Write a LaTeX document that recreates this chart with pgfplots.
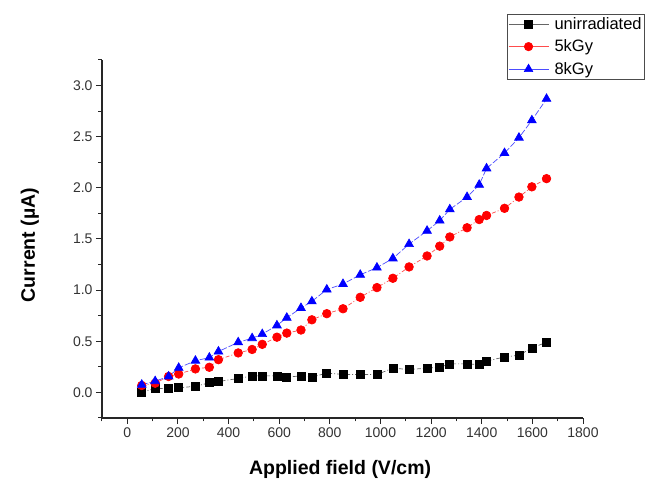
\documentclass[border=0pt]{standalone}
\usepackage{fontspec}
\setmainfont{Liberation Sans}
\usepackage{pgfplots}
\pgfplotsset{compat=1.18}
\begin{document}
\begin{tikzpicture}[x=1pt,y=1pt]
\useasboundingbox (0,0) rectangle (649,486);
\begin{axis}[
  at={(102pt,68pt)}, anchor=south west,
  scale only axis, width=481pt, height=358pt,
  xmin=-100, xmax=1800, ymin=-0.25, ymax=3.25,
  axis lines*=left,
  axis line style={line width=1.2pt, black!85},
  xtick={0,200,...,1800},
  minor xtick={-100,100,...,1700},
  ytick={0,0.5,...,3.0},
  minor ytick={-0.25,0.25,...,3.25},
  tick align=outside,
  major tick length=6pt, minor tick length=3.5pt,
  tick style={line width=1pt, black!85},
  tick label style={font=\fontsize{14}{16}\selectfont, text=black!80},
  /pgf/number format/assume math mode=true,
  xticklabel style={/pgf/number format/.cd, fixed, 1000 sep={}},
  yticklabel style={/pgf/number format/.cd, fixed, fixed zerofill, precision=1},
  xlabel={\bfseries Applied field (V/cm)},
  ylabel={\bfseries Current (µA)},
  label style={font=\fontsize{19.5}{22}\selectfont},
  xlabel style={at={(axis description cs:0.495,-0.145)}, anchor=center},
  ylabel style={at={(axis description cs:-0.15,0.483)}, anchor=center},
  clip=false,
  legend cell align=left,
  legend style={at={(0.842,1.129)}, anchor=north west, draw=black!70, line width=0.6pt,
    font=\fontsize{16.5}{18}\selectfont, row sep=2.5pt, inner xsep=1pt, inner ysep=0pt},
  legend image code/.code={%
    \path[draw=none,fill=none] (0pt,-10pt) rectangle (44pt,10pt);
    \draw[mark repeat=2,mark phase=2,solid,line width=0.5pt] plot coordinates {(0pt,0pt)(20pt,0pt)(40pt,0pt)};},
]
\addplot[black!60, line width=0.7pt, dash pattern=on 4pt off 2pt on 1pt off 2pt,
  mark=square*, mark size=4pt, mark options={solid, fill=black, draw=black}] coordinates {
(57,0.0)(110,0.04)(163,0.035)(203,0.045)(269,0.06)(324,0.094)(360,0.107)(438,0.136)
(493,0.162)(533,0.162)(591,0.162)(630,0.149)(686,0.162)(729,0.149)(788,0.19)(852,0.175)
(920,0.175)(986,0.175)(1049,0.237)(1113,0.224)(1184,0.237)(1234,0.246)(1274,0.279)
(1342,0.279)(1390,0.273)(1419,0.305)(1490,0.347)(1547,0.363)(1598,0.435)(1656,0.49)};
\addlegendentry{unirradiated}
\addplot[red!70!white, line width=0.7pt, dash pattern=on 4pt off 2pt on 1pt off 2pt,
  mark=*, mark size=4.3pt, mark options={solid, fill=red, draw=red}] coordinates {
(57,0.068)(110,0.09)(163,0.156)(203,0.18)(269,0.23)(324,0.246)(360,0.32)(438,0.386)
(493,0.42)(533,0.47)(591,0.54)(630,0.58)(686,0.61)(729,0.71)(788,0.77)(852,0.818)
(920,0.93)(986,1.025)(1049,1.116)(1113,1.227)(1184,1.334)(1234,1.43)(1274,1.52)
(1342,1.61)(1390,1.69)(1419,1.73)(1490,1.80)(1547,1.91)(1598,2.01)(1656,2.09)};
\addlegendentry{5kGy}
\addplot[blue!70!white, line width=0.7pt, dash pattern=on 6pt off 2pt,
  mark=triangle*, mark size=5pt, mark options={solid, fill=blue, draw=blue}] coordinates {
(57,0.075)(110,0.11)(163,0.156)(203,0.24)(269,0.31)(324,0.34)(360,0.40)(438,0.49)
(493,0.53)(533,0.57)(591,0.655)(630,0.73)(686,0.825)(729,0.89)(788,1.006)(852,1.06)
(920,1.15)(986,1.22)(1049,1.31)(1113,1.45)(1184,1.58)(1234,1.68)(1274,1.79)
(1342,1.91)(1390,2.03)(1419,2.19)(1490,2.34)(1547,2.49)(1598,2.66)(1656,2.87)};
\addlegendentry{8kGy}
\end{axis}
\end{tikzpicture}
\end{document}
